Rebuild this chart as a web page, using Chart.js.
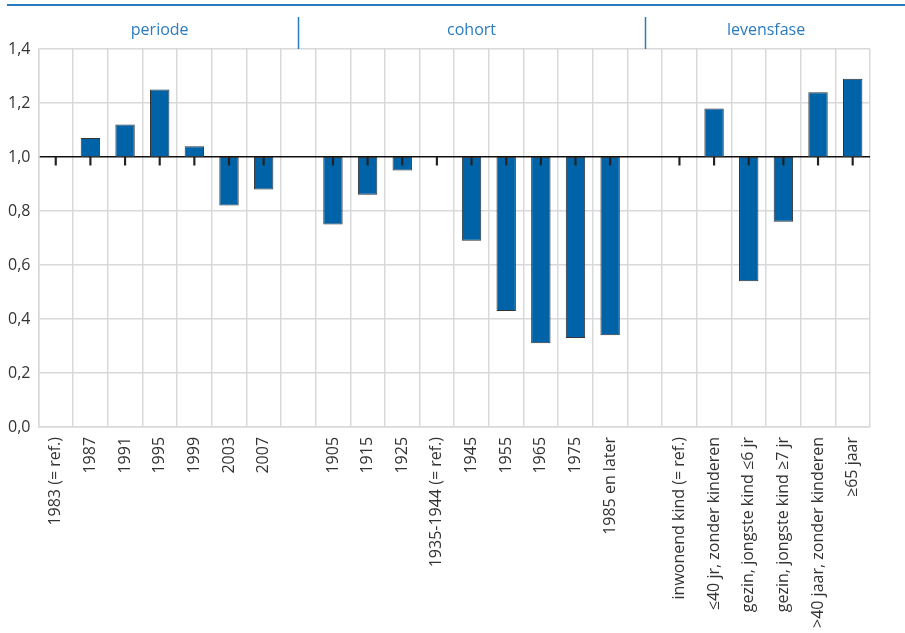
<!DOCTYPE html>
<html><head><meta charset="utf-8">
<script src="https://cdn.jsdelivr.net/npm/chart.js@4/dist/chart.umd.min.js"></script>
<style>html,body{margin:0;padding:0;background:#fff}#wrap{width:905px;height:633px;position:relative}</style>
</head><body><div id="wrap"><canvas id="c"></canvas></div>
<script>
const categories = ["1983 (= ref.)","1987","1991","1995","1999","2003","2007","",
  "1905","1915","1925","1935-1944 (= ref.)","1945","1955","1965","1975","1985 en later","",
  "inwonend kind (= ref.)","≤40 jr, zonder kinderen","gezin, jongste kind ≤6 jr","gezin, jongste kind ≥7 jr",">40 jaar, zonder kinderen","≥65 jaar"];
const values = [1.00,1.07,1.12,1.25,1.04,0.82,0.88,null,
  0.75,0.86,0.95,1.00,0.69,0.43,0.31,0.33,0.34,null,
  1.00,1.18,0.54,0.76,1.24,1.29];
const referenceValue = 1.0;
const tickMarkLow = 0.97;
const groupLabels = ["periode","cohort","levensfase"];
const groupFrom = [0,8,18];
const groupTo = [6,16,23];
const separatorsAt = [7,17];
const yMin = 0, yMax = 1.4, yStep = 0.2;

const BLUE = '#2b7bbf';
const FONT = "'Open Sans', 'Noto Sans', sans-serif";

const headerPlugin = {
  id: 'header',
  afterDraw(chart) {
    const {ctx, chartArea, scales: {x}} = chart;
    ctx.save();
    ctx.strokeStyle = BLUE;
    ctx.lineWidth = 2;
    ctx.beginPath();
    ctx.moveTo(7, 5); ctx.lineTo(chart.width, 5);
    ctx.stroke();
    ctx.lineWidth = 1.5;
    separatorsAt.forEach(i => {
      const px = Math.round(x.getPixelForValue(i)) + 0.5;
      ctx.beginPath();
      ctx.moveTo(px, 17); ctx.lineTo(px, chartArea.top);
      ctx.stroke();
    });
    ctx.fillStyle = BLUE;
    ctx.font = "16px " + FONT;
    ctx.textAlign = 'center';
    ctx.textBaseline = 'middle';
    groupLabels.forEach((g, k) => {
      const cx = (x.getPixelForValue(groupFrom[k]) + x.getPixelForValue(groupTo[k])) / 2;
      ctx.fillText(g, cx, 30);
    });
    ctx.restore();
  }
};

new Chart(document.getElementById('c'), {
  type: 'bar',
  data: {
    labels: categories,
    datasets: [
      {
        label: 'tick',
        data: values.map(v => v == null ? null : [tickMarkLow, referenceValue]),
        backgroundColor: '#222',
        borderWidth: 0,
        barThickness: 1.5,
        grouped: false,
        order: 0
      },
      {
        label: 'waarde',
        data: values.map(v => v == null ? null : [referenceValue, v]),
        backgroundColor: '#0063a8',
        borderColor: '#333',
        borderWidth: 1,
        borderSkipped: false,
        barPercentage: 0.56,
        categoryPercentage: 1,
        grouped: false,
        order: 1
      }
    ]
  },
  options: {
    responsive: true,
    maintainAspectRatio: false,
    animation: false,
    layout: {padding: {top: 49, left: 0, right: 35, bottom: -5}},
    plugins: {legend: {display: false}, tooltip: {enabled: false}},
    scales: {
      x: {
        grid: {color: '#d9d9d9', lineWidth: 1.5, drawTicks: false, offset: true},
        border: {color: '#d9d9d9', width: 1.5},
        ticks: {
          autoSkip: false, maxRotation: 90, minRotation: 90, padding: 10,
          color: '#333', font: {family: FONT, size: 16}
        }
      },
      y: {
        min: yMin, max: yMax,
        grid: {
          drawTicks: false, lineWidth: 1.5,
          color: c => Math.abs(c.tick.value - referenceValue) < 1e-6 ? '#111' : '#d9d9d9'
        },
        border: {color: '#d9d9d9', width: 1.5},
        ticks: {
          stepSize: yStep, padding: 8, color: '#333',
          font: {family: FONT, size: 16},
          callback: v => Number(v).toFixed(1).replace('.', ',')
        }
      }
    }
  },
  plugins: [headerPlugin]
});
</script>
</body></html>
